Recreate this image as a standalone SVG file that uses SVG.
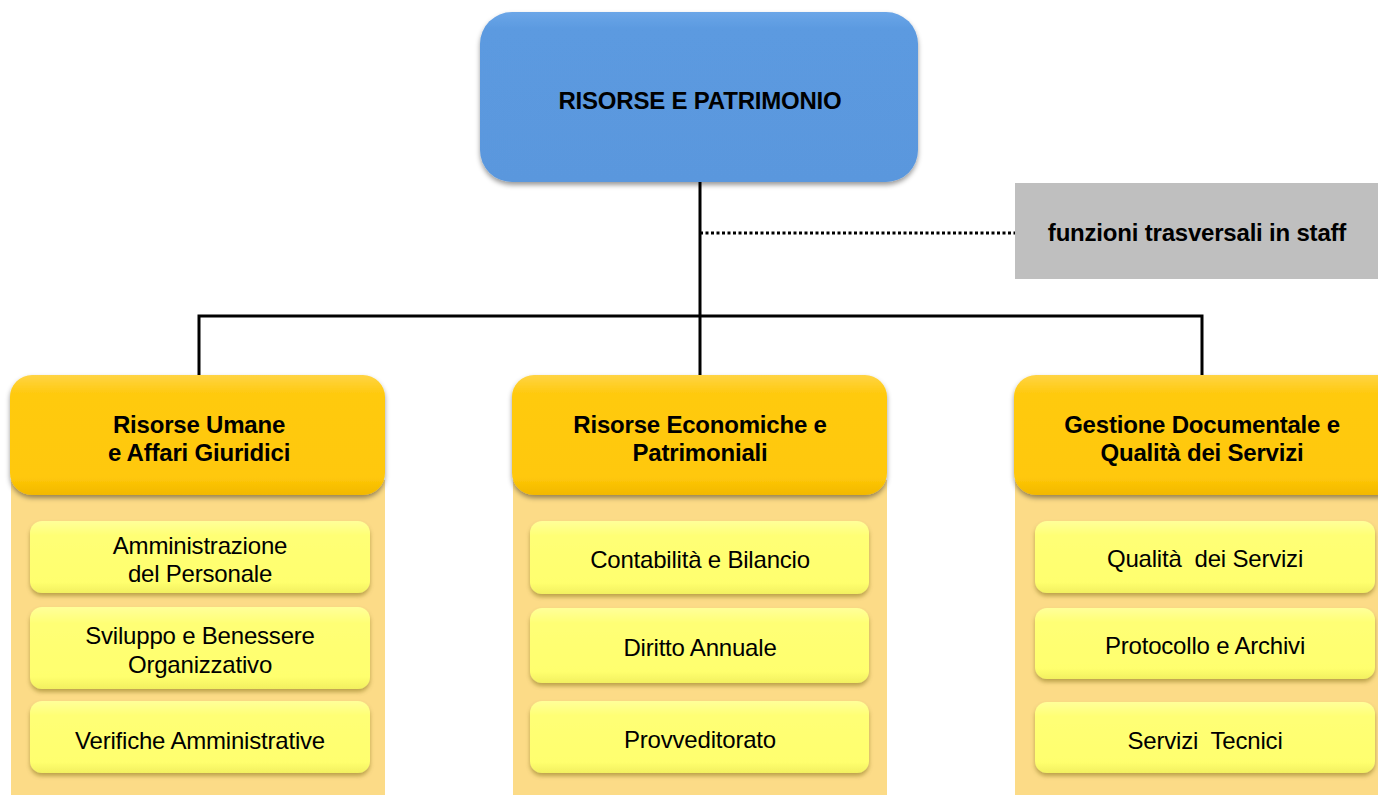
<svg xmlns="http://www.w3.org/2000/svg" width="1378" height="795" viewBox="0 0 1378 795">
<style>
text{font-family:"Liberation Sans",Arial,sans-serif;fill:#000;text-anchor:middle;dominant-baseline:central}
.b{font-weight:bold;font-size:24px;letter-spacing:-0.2px}
.r{font-size:24px;letter-spacing:-0.2px}
.panel{fill:#FCDB87}
.hdr{fill:url(#gOr);filter:url(#sh)}
.sub{fill:url(#gYe);filter:url(#sh2)}
.ln{stroke:#000;stroke-width:3;fill:none}
</style>
<defs>
<linearGradient id="gBl" x1="0" y1="0" x2="0" y2="1"><stop offset="0" stop-color="#6BA6E8"/><stop offset="0.1" stop-color="#5B9AE0"/><stop offset="1" stop-color="#5A97DD"/></linearGradient>
<linearGradient id="gOr" x1="0" y1="0" x2="0" y2="1"><stop offset="0" stop-color="#FFD445"/><stop offset="0.15" stop-color="#FFCA10"/><stop offset="0.85" stop-color="#FFC809"/><stop offset="1" stop-color="#F2B800"/></linearGradient>
<linearGradient id="gYe" x1="0" y1="0" x2="0" y2="1"><stop offset="0" stop-color="#FFFF9A"/><stop offset="0.2" stop-color="#FFFF75"/><stop offset="0.85" stop-color="#FFFF6E"/><stop offset="1" stop-color="#F2F060"/></linearGradient>
<filter id="sh" x="-10%" y="-10%" width="120%" height="130%"><feDropShadow dx="0" dy="3" stdDeviation="2.5" flood-color="#000" flood-opacity="0.4"/></filter>
<filter id="sh2" x="-10%" y="-10%" width="120%" height="130%"><feDropShadow dx="0" dy="3" stdDeviation="2" flood-color="#6B5A00" flood-opacity="0.45"/></filter>
</defs>

<g id="connectors">
<path class="ln" d="M700 182V375M199 375V316H1202V375"/>
<path d="M700 233H1015" stroke="#000" stroke-width="3" stroke-dasharray="3 2.5" fill="none"/>
</g>

<g id="root">
<rect x="480" y="12" width="438" height="170" rx="32" fill="url(#gBl)" filter="url(#sh)"/>
<text class="b" x="700" y="100">RISORSE E PATRIMONIO</text>
</g>

<g id="staff">
<rect x="1015" y="183" width="363" height="96" fill="#BFBFBF"/>
<text class="b" x="1197" y="232" letter-spacing="-0.6">funzioni trasversali in staff</text>
</g>

<g id="col1">
<rect class="panel" x="11" y="480" width="374" height="315"/>
<rect class="hdr" x="10" y="375" width="375" height="120" rx="22"/>
<text class="b" x="199" y="424">Risorse Umane</text>
<text class="b" x="199" y="452">e Affari Giuridici</text>
<g id="c1s1"><rect class="sub" x="30" y="521" width="340" height="72" rx="12"/>
<text class="r" x="200" y="545">Amministrazione</text><text class="r" x="200" y="573">del Personale</text></g>
<g id="c1s2"><rect class="sub" x="30" y="607" width="340" height="82" rx="12"/>
<text class="r" x="200" y="635">Sviluppo e Benessere</text><text class="r" x="200" y="664">Organizzativo</text></g>
<g id="c1s3"><rect class="sub" x="30" y="701" width="340" height="72" rx="12"/>
<text class="r" x="200" y="740">Verifiche Amministrative</text></g>
</g>

<g id="col2">
<rect class="panel" x="513" y="480" width="374" height="315"/>
<rect class="hdr" x="512" y="375" width="375" height="120" rx="22"/>
<text class="b" x="700" y="424">Risorse Economiche e</text>
<text class="b" x="700" y="452">Patrimoniali</text>
<g id="c2s1"><rect class="sub" x="530" y="521" width="339" height="73" rx="12"/>
<text class="r" x="700" y="559">Contabilità e Bilancio</text></g>
<g id="c2s2"><rect class="sub" x="530" y="608" width="339" height="75" rx="12"/>
<text class="r" x="700" y="647">Diritto Annuale</text></g>
<g id="c2s3"><rect class="sub" x="530" y="701" width="339" height="72" rx="12"/>
<text class="r" x="700" y="739">Provveditorato</text></g>
</g>

<g id="col3">
<rect class="panel" x="1015" y="480" width="363" height="315"/>
<rect class="hdr" x="1014" y="375" width="390" height="120" rx="22"/>
<text class="b" x="1202" y="424">Gestione Documentale e</text>
<text class="b" x="1202" y="452">Qualità dei Servizi</text>
<g id="c3s1"><rect class="sub" x="1035" y="521" width="340" height="72" rx="12"/>
<text class="r" x="1205" y="558" xml:space="preserve">Qualità  dei Servizi</text></g>
<g id="c3s2"><rect class="sub" x="1035" y="608" width="340" height="71" rx="12"/>
<text class="r" x="1205" y="645">Protocollo e Archivi</text></g>
<g id="c3s3"><rect class="sub" x="1035" y="702" width="340" height="71" rx="12"/>
<text class="r" x="1205" y="740" xml:space="preserve">Servizi  Tecnici</text></g>
</g>
</svg>
